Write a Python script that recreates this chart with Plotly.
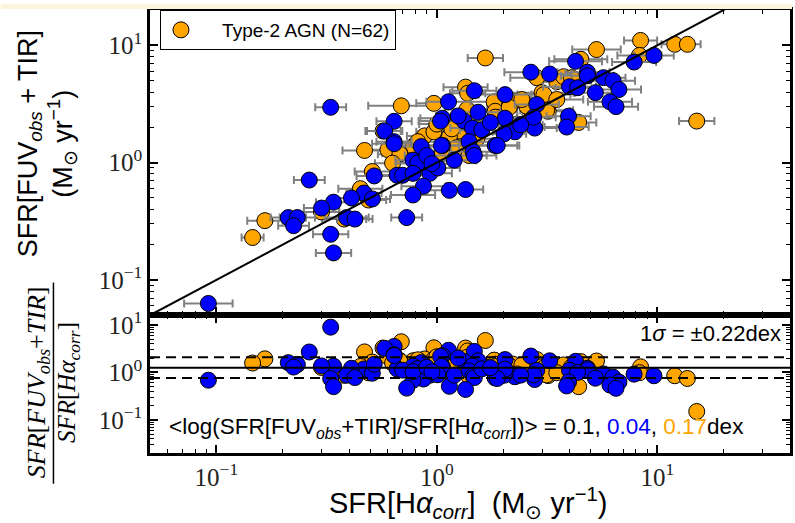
import numpy as np
import plotly.graph_objects as go

# ---------------- data ----------------
# Type-2 AGN (orange)
t2_ha = [8.4, 12.0, 13.7, 5.3, 8.3, 1.66, 4.5, 1.35, 1.38, 0.69,
         0.97, 2.84, 3.5, 3.76, 4.08, 3.0, 3.06, 2.21, 2.6, 3.2,
         4.4, 15.1, 0.57, 1.21, 1.31, 1.82, 1.84, 1.94, 0.88, 1.26,
         1.14, 0.78, 1.23, 1.40, 0.68, 0.47, 0.60, 0.68, 0.51, 0.45,
         0.49, 0.30, 0.38, 0.166, 0.146, 2.56, 3.15, 1.84, 0.82, 0.97,
         1.17, 1.66, 2.13, 2.43, 1.06, 1.52, 0.63, 0.86, 3.5, 2.30,
         1.37, 1.0]
t2_fuv = [11.0, 10.2, 10.2, 9.2, 8.2, 7.8, 7.6, 4.4, 3.9, 3.05,
          3.2, 5.3, 4.9, 5.4, 5.3, 3.95, 3.8, 3.3, 2.96, 2.74,
          2.2, 2.26, 1.86, 2.26, 2.13, 3.3, 2.74, 2.44, 1.69, 1.86,
          1.66, 1.37, 1.34, 1.15, 1.20, 1.27, 1.29, 1.18, 0.84, 0.60,
          0.48, 0.38, 0.33, 0.32, 0.23, 3.02, 2.79, 2.44, 1.51, 1.83,
          1.94, 2.13, 2.96, 3.45, 1.20, 1.60, 0.99, 1.09, 3.45, 2.13,
          2.84, 2.13]
t2_xerr_dex = [0.075, 0.06, 0.06, 0.11, 0.10, 0.08, 0.12, 0.10, 0.08, 0.15,
               0.08, 0.12, 0.10, 0.09, 0.10, 0.15, 0.12, 0.10, 0.12, 0.10,
               0.08, 0.08, 0.08, 0.10, 0.12, 0.12, 0.10, 0.10, 0.08, 0.10,
               0.09, 0.10, 0.10, 0.08, 0.08, 0.10, 0.08, 0.10, 0.08, 0.10,
               0.08, 0.08, 0.10, 0.08, 0.05, 0.10, 0.12, 0.10, 0.10, 0.08,
               0.10, 0.12, 0.10, 0.10, 0.08, 0.10, 0.08, 0.10, 0.12, 0.10,
               0.10, 0.08]

# Star-forming galaxies (blue)
sf_ha = [9.66, 7.85, 4.26, 2.67, 3.25, 4.82, 4.82, 5.7, 6.3, 6.7,
         5.24, 4.0, 4.35, 6.1, 6.5, 1.48, 1.13, 2.04, 2.84, 0.33,
         0.64, 0.58, 1.06, 1.04, 1.33, 0.64, 1.06, 1.54, 1.45, 3.96,
         3.88, 2.78, 2.26, 2.02, 2.04, 2.75, 0.85, 1.05, 1.40, 1.46,
         1.48, 1.84, 1.88, 0.78, 0.82, 0.93, 1.01, 0.66, 0.70, 0.87,
         0.78, 1.14, 1.35, 0.73, 0.264, 0.467, 0.51, 0.41, 0.34, 0.30,
         0.212, 0.233, 0.224, 0.39, 0.425, 0.33, 0.34, 0.092, 0.64, 0.52,
         0.78, 0.90, 1.2, 1.6, 1.75, 2.4, 1.25, 0.95]
sf_fuv = [8.2, 7.2, 7.3, 5.9, 5.7, 5.9, 5.5, 5.3, 5.0, 4.2,
          3.95, 4.44, 4.35, 3.3, 3.0, 4.1, 3.3, 3.8, 3.13, 2.96,
          2.25, 1.86, 2.39, 2.26, 2.26, 1.51, 1.40, 2.69, 1.97, 2.49,
          2.01, 1.97, 1.83, 1.76, 2.39, 2.44, 1.37, 1.40, 1.51, 1.24,
          1.15, 1.40, 1.40, 1.05, 0.99, 0.81, 0.90, 0.78, 0.78, 0.63,
          0.53, 0.58, 0.59, 0.34, 0.71, 0.55, 0.49, 0.50, 0.46, 0.41,
          0.34, 0.34, 0.29, 0.34, 0.33, 0.245, 0.17, 0.063, 1.45, 0.77,
          0.81, 1.15, 1.05, 1.9, 2.2, 2.1, 2.5, 0.98]
sf_xerr_dex = [0.09, 0.10, 0.12, 0.12, 0.10, 0.10, 0.12, 0.10, 0.10, 0.10,
               0.10, 0.12, 0.10, 0.10, 0.10, 0.10, 0.10, 0.12, 0.10, 0.07,
               0.08, 0.08, 0.10, 0.10, 0.10, 0.08, 0.10, 0.10, 0.10, 0.10,
               0.10, 0.10, 0.10, 0.10, 0.10, 0.10, 0.10, 0.08, 0.10, 0.10,
               0.10, 0.10, 0.10, 0.08, 0.10, 0.10, 0.10, 0.08, 0.10, 0.10,
               0.10, 0.10, 0.08, 0.07, 0.07, 0.08, 0.08, 0.08, 0.08, 0.08,
               0.08, 0.08, 0.07, 0.10, 0.08, 0.08, 0.08, 0.11, 0.10, 0.08,
               0.10, 0.10, 0.10, 0.10, 0.10, 0.10, 0.10, 0.08]

mean_all, mean_sf, mean_t2 = 0.1, 0.04, 0.17   # dex
sigma_dex = 0.22

x_limits = [0.05, 40]
y_limits_top = [0.05, 20]
y_limits_bot = [0.02, 16]

major_vals = [0.1, 1, 10]
major_text = ["10<sup>−1</sup>", "10<sup>0</sup>", "10<sup>1</sup>"]
minor_vals = [m * 10.0 ** e for e in range(-2, 2) for m in range(2, 10)]

ORANGE = "#FFA500"
BLUE = "#0000FF"
SANS = "Liberation Sans"
SERIF = "Liberation Serif"

W, H = 795, 523
ML, MR, MT, MB = 150, 2, 6, 70
PW, PH = W - ML - MR, H - MT - MB
split = (453 - 314) / PH


def px_x(p):
    return (p - ML) / PW


def px_y(p):
    return (H - MB - p) / PH


def err_arrays(x, dex):
    x = np.array(x, float)
    d = np.array(dex, float)
    return x * (10 ** d - 1), x * (1 - 10 ** (-d))


fig = go.Figure()

# ---- top panel ----
NBSP = "\u00a0"
for name, xs, ys, ed, col, show in [
    (NBSP * 4 + "Type-2 AGN (N=62)", t2_ha, t2_fuv, t2_xerr_dex, ORANGE, True),
    ("Star-forming", sf_ha, sf_fuv, sf_xerr_dex, BLUE, False),
]:
    plus, minus = err_arrays(xs, ed)
    fig.add_trace(go.Scatter(
        x=xs, y=ys, mode="markers", name=name, showlegend=show,
        marker=dict(size=16, color=col, line=dict(color="black", width=1)),
        error_x=dict(type="data", symmetric=False, array=plus, arrayminus=minus,
                     color="#808080", thickness=2, width=4),
        xaxis="x", yaxis="y"))

fig.add_trace(go.Scatter(x=x_limits, y=x_limits, mode="lines", showlegend=False,
                         line=dict(color="black", width=2), xaxis="x", yaxis="y"))

# ---- bottom panel (ratio) ----
for xs, ys, col in [(t2_ha, t2_fuv, ORANGE), (sf_ha, sf_fuv, BLUE)]:
    ratio = np.array(ys) / np.array(xs)
    fig.add_trace(go.Scatter(
        x=xs, y=ratio, mode="markers", showlegend=False,
        marker=dict(size=16, color=col, line=dict(color="black", width=1)),
        xaxis="x2", yaxis="y2"))

fig.add_trace(go.Scatter(x=x_limits, y=[10 ** mean_all] * 2, mode="lines", showlegend=False,
                         line=dict(color="black", width=2), xaxis="x2", yaxis="y2"))
for s in (+1, -1):
    fig.add_trace(go.Scatter(x=x_limits, y=[10 ** (mean_all + s * sigma_dex)] * 2, mode="lines",
                             showlegend=False,
                             line=dict(color="black", width=2, dash="10px,6px"),
                             xaxis="x2", yaxis="y2"))

axis_common = dict(
    type="log", showline=True, linecolor="black", linewidth=2.5, mirror="allticks",
    ticks="inside", ticklen=8, tickwidth=1.5, tickcolor="black",
    showgrid=False, zeroline=False,
    tickmode="array", tickvals=major_vals, ticktext=major_text,
    minor=dict(tickmode="array", tickvals=minor_vals, ticks="inside", ticklen=4,
               tickwidth=1, tickcolor="black", showgrid=False),
    tickfont=dict(family=SERIF, size=25, color="#222222"),
)

fig.update_layout(
    width=W, height=H,
    margin=dict(l=ML, r=MR, t=MT, b=MB),
    paper_bgcolor="white", plot_bgcolor="white",
    xaxis=dict(axis_common, range=[np.log10(x_limits[0]), np.log10(x_limits[1])],
               anchor="y", showticklabels=False, domain=[0, 1]),
    yaxis=dict(axis_common, range=[np.log10(y_limits_top[0]), np.log10(y_limits_top[1])],
               anchor="x", domain=[split, 1]),
    xaxis2=dict(axis_common, range=[np.log10(x_limits[0]), np.log10(x_limits[1])],
                anchor="y2", matches="x", domain=[0, 1]),
    yaxis2=dict(axis_common, range=[np.log10(y_limits_bot[0]), np.log10(y_limits_bot[1])],
                anchor="x2", domain=[0, split]),
    showlegend=True,
    legend=dict(x=px_x(160), y=1, xanchor="left", yanchor="top",
                bordercolor="black", borderwidth=1, bgcolor="white", itemwidth=30,
                font=dict(family=SANS, size=19, color="black")),
)

# cream strip at top of figure
fig.add_shape(type="rect", xref="paper", yref="paper", x0=px_x(0), x1=px_x(W),
              y0=px_y(5), y1=px_y(0), fillcolor="#fcf5dc", line=dict(width=0), layer="above")

ann = []
ann.append(dict(text="SFR[FUV<sub><i>obs</i></sub> + TIR]<br>(M<sub>⊙</sub> yr<sup>−1</sup>)",
                x=px_x(47), y=px_y(141), textangle=-90,
                font=dict(family=SANS, size=27, color="black")))
ann.append(dict(text="<i>SFR</i>[<i>FUV</i><sub><i>obs</i></sub>+<i>TIR</i>]",
                x=px_x(37), y=px_y(382), textangle=-90,
                font=dict(family=SERIF, size=26, color="black")))
ann.append(dict(text="<i>SFR</i>[<i>Hα</i><sub><i>corr</i></sub>]",
                x=px_x(68), y=px_y(382), textangle=-90,
                font=dict(family=SERIF, size=25, color="black")))
ann.append(dict(text="SFR[H<i>α</i><sub><i>corr</i></sub>]  (M<sub>⊙</sub> yr<sup>−1</sup>)",
                x=px_x(470), y=px_y(503),
                font=dict(family=SANS, size=29, color="black")))
ann.append(dict(text="1<i>σ</i> = ±%.2fdex" % sigma_dex,
                x=px_x(786), y=px_y(332), xanchor="right",
                font=dict(family=SANS, size=22, color="black")))
ann.append(dict(text=("&lt;log(SFR[FUV<sub><i>obs</i></sub>+TIR]/SFR[H<i>α</i><sub><i>corr</i></sub>])&gt; = "
                      "%.1f, <span style='color:%s'>%.2f</span>, <span style='color:%s'>%.2f</span>dex"
                      % (mean_all, BLUE, mean_sf, ORANGE, mean_t2)),
                x=px_x(167), y=px_y(428), xanchor="left",
                font=dict(family=SANS, size=22.5, color="black")))
for a in ann:
    a.setdefault("xanchor", "center")
    a.update(xref="paper", yref="paper", showarrow=False, yanchor="middle")
fig.update_layout(annotations=ann)

# fraction bar of the lower y label
fig.add_shape(type="line", xref="paper", yref="paper", x0=px_x(53), x1=px_x(53),
              y0=px_y(281), y1=px_y(484), line=dict(color="black", width=1.5))

fig.write_html("out.html", config={"displayModeBar": False},
               post_script="document.body.style.margin='0';document.body.style.padding='0';")
